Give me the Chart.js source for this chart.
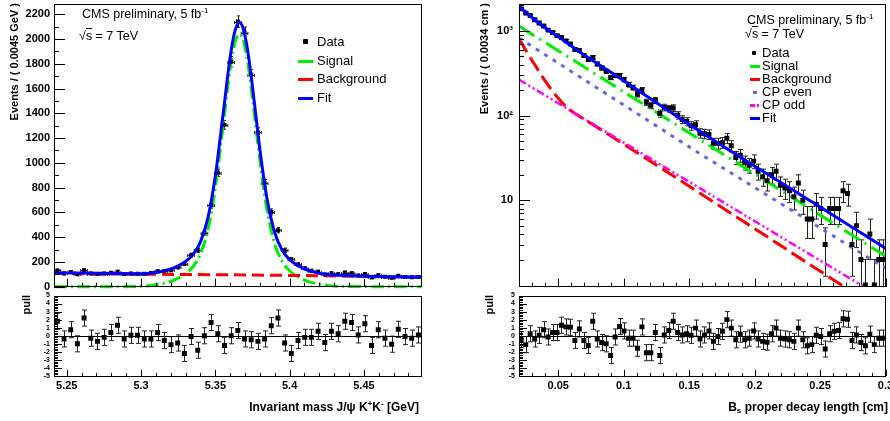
<!DOCTYPE html>
<html lang="en">
<head>
<meta charset="UTF-8">
<title>Bs mass and proper decay length fit</title>
<script src="https://cdn.jsdelivr.net/npm/chart.js"></script>
<style>
  body { margin: 0; width: 890px; height: 421px; background: #fff; position: relative; overflow: hidden;
         font-family: "Liberation Sans", Arial, sans-serif; color: #000; }
  canvas { position: absolute; }
  .t { position: absolute; white-space: nowrap; line-height: 15px; font-size: 12.5px; }
  .t sup { font-size: 8px; vertical-align: 5px; line-height: 0; }
  .t sub { font-size: 8px; vertical-align: -2px; line-height: 0; }
  .b { font-weight: bold; }
  .rot { position: absolute; transform-origin: 0 0; transform: rotate(-90deg); text-align: right;
         font-weight: bold; font-size: 11px; line-height: 14px; white-space: nowrap; }
  .sw { position: absolute; height: 3px; }
  .mk { position: absolute; background: #000; }
  .ov { text-decoration: overline; }
</style>
</head>
<body>
<canvas id="cMass" width="445" height="291" style="left:0;top:0"></canvas>
<canvas id="cMassPull" width="445" height="130" style="left:0;top:291px"></canvas>
<canvas id="cCt" width="445" height="291" style="left:445px;top:0"></canvas>
<canvas id="cCtPull" width="445" height="130" style="left:445px;top:291px"></canvas>

<!-- left panel texts -->
<div class="t" style="left:82px;top:7px">CMS preliminary, 5 fb<sup>-1</sup></div>
<div class="t" style="left:79px;top:29px">√<span class="ov">s</span> = 7 TeV</div>
<div class="mk" style="left:303px;top:39px;width:5px;height:5px;border-radius:1px"></div>
<div class="t" style="left:317px;top:34px;font-size:13px">Data</div>
<div class="sw" style="left:298px;top:60px;width:15px;background:#00ee00"></div>
<div class="t" style="left:317px;top:53px;font-size:13px">Signal</div>
<div class="sw" style="left:298px;top:78px;width:15px;background:#ff0000"></div>
<div class="t" style="left:317px;top:71px;font-size:13px">Background</div>
<div class="sw" style="left:298px;top:97px;width:15px;background:#0000ff"></div>
<div class="t" style="left:317px;top:90px;font-size:13px">Fit</div>

<!-- right panel texts -->
<div class="t" style="left:747px;top:13px">CMS preliminary, 5 fb<sup>-1</sup></div>
<div class="t" style="left:745px;top:27px">√<span class="ov">s</span> = 7 TeV</div>
<div class="mk" style="left:752px;top:51px;width:4px;height:4px;border-radius:1px"></div>
<div class="t" style="left:762px;top:45px;font-size:13px">Data</div>
<div class="sw" style="left:750px;top:65px;width:10px;background:#00ee00"></div>
<div class="t" style="left:762px;top:58px;font-size:13px">Signal</div>
<div class="sw" style="left:750px;top:78px;width:10px;background:#ff0000"></div>
<div class="t" style="left:762px;top:71px;font-size:13px">Background</div>
<div class="sw" style="left:753px;top:91px;width:4px;background:#6666dd"></div>
<div class="t" style="left:762px;top:84px;font-size:13px">CP even</div>
<div class="sw" style="left:750px;top:104px;width:5px;background:#ff00ff"></div>
<div class="sw" style="left:757px;top:104px;width:2px;background:#ff00ff"></div>
<div class="t" style="left:762px;top:97px;font-size:13px">CP odd</div>
<div class="sw" style="left:750px;top:117px;width:10px;background:#0000ff"></div>
<div class="t" style="left:762px;top:110px;font-size:13px">Fit</div>

<!-- axis titles -->
<div class="rot" style="left:7px;top:303px;width:300px">Events / ( 0.0045 GeV )</div>
<div class="rot" style="left:477px;top:303px;width:300px">Events / ( 0.0034 cm )</div>
<div class="rot" style="left:19px;top:395px;width:100px">pull</div>
<div class="rot" style="left:482px;top:395px;width:100px">pull</div>
<div class="t b" style="right:471px;top:400px;font-size:12px">Invariant mass J/ψ K<sup>+</sup>K<sup>-</sup> [GeV]</div>
<div class="t b" style="right:2px;top:400px;font-size:12px">B<sub>s</sub> proper decay length [cm]</div>

<script>
// binning
const massLo = 5.2414, massHi = 5.4889, massBin = 0.0045;
const ctLo = 0.02, ctHi = 0.30, ctBin = 0.28 / 82;

// tick labels
const massYTicks = [0, 200, 400, 600, 800, 1000, 1200, 1400, 1600, 1800, 2000, 2200];
const massXTicks = [5.25, 5.3, 5.35, 5.4, 5.45];
const ctXTicks = [0.05, 0.1, 0.15, 0.2, 0.25, 0.3];
const ctYTicks = [10, 100, 1000];
const pullTicks = [-5, -4, -3, -2, -1, 0, 1, 2, 3, 4, 5];

// left: invariant mass, events per bin
const massCounts = [131, 107, 119, 100, 133, 106, 102, 106, 112, 121, 103, 106, 105, 104, 110,
  124, 124, 133, 156, 185, 255, 295, 437, 660, 920, 1307, 1816, 2141, 2052, 1712, 1248, 837,
  604, 456, 295, 220, 180, 148, 128, 121, 99, 109, 101, 114, 109, 91, 102, 75, 92, 81, 73, 89,
  79, 76, 79];
const massPulls = [1.8, -0.4, 0.75, -1.0, 2.2, -0.3, -0.7, -0.2, 0.4, 1.3, -0.4, 0.05, 0.05, -0.4,
  -0.4, 0.4, -0.6, -1.1, -0.9, -2.2, -0.1, -1.8, 0, 1.65, 0.25, -1.2, 0, 0.65, -0.4, -0.5, -0.7,
  -0.4, 1.25, 2.2, -0.9, -2.2, -0.6, -0.2, -0.2, 0.55, -0.85, 0.55, 0.25, 1.8, 1.65, 0.1, 1.5,
  -1.2, 0.75, -0.3, -1.05, 0.8, -0.1, -0.3, 0.1];

// left: fit curves
const massCurveX = [5.2414, 5.26, 5.28, 5.30, 5.31, 5.32, 5.325, 5.33, 5.335, 5.34, 5.345, 5.35,
  5.355, 5.36, 5.363, 5.3662, 5.369, 5.372, 5.375, 5.378, 5.381, 5.385, 5.39, 5.395, 5.40, 5.41,
  5.42, 5.43, 5.45, 5.47, 5.4889];
const massFit = [112, 110, 107, 104, 115, 143, 168, 204, 261, 362, 556, 894, 1372, 1855, 2056,
  2134, 2075, 1887, 1615, 1308, 1015, 695, 436, 295, 219, 144, 109, 94, 85, 81, 78];
const massSignal = [0, 0, 0, 3, 15, 43, 69, 105, 163, 265, 460, 799, 1277, 1761, 1962, 2040, 1981,
  1794, 1522, 1215, 922, 603, 344, 204, 129, 54, 20, 6, 1, 0, 0];
const massBkgX = [5.2414, 5.27, 5.30, 5.35, 5.40, 5.45, 5.4889];
const massBkg = [108, 104, 101, 97, 91, 84, 78];

// right: proper decay length, events per bin
const ctCounts = [1820, 1622, 1520, 1353, 1238, 1144, 1021, 956, 879, 835, 763, 700, 603, 589, 512,
  459, 487, 407, 365, 334, 282, 298, 297, 266, 232, 214, 179, 200, 144, 132, 151, 106, 125, 121,
  123, 101, 90, 85, 76, 78, 62, 61, 60, 47, 47, 48, 54, 44, 32, 34, 28, 26, 29, 22, 19, 17, 20,
  22, 15, 14, 13, 11, 16, 10, 6, 6, 9, 8, 3, 8, 8, 8, 13, 12, 3, 5, 2, 1, 4, 1, 2, 2];
const ctPulls = [-0.5, -1.1, 0.25, -0.4, 0.05, 0.75, -0.15, 0.4, 0.4, 1.3, 1.1, 1.05, -0.6, 0.85,
  -0.6, -1.2, 1.8, -0.4, -0.85, -1.0, -2.45, -0.15, 1.15, 0.6, -0.3, -0.3, -1.55, 1.1, -2.1, -2.1,
  0.4, -2.45, 0.1, 0.65, 1.8, 0.4, 0.1, 0.25, 0.05, 0.95, -0.4, 0.1, 0.6, -0.7, -0.1, 0.55, 2.0,
  0.95, -0.5, 0.2, -0.5, -0.3, 0.6, -0.4, -0.7, -0.8, 0.25, 0.95, -0.3, -0.4, -0.5, -0.7, 0.95,
  -0.5, -1.25, -1.1, 0.05, -0.1, -1.65, 0.25, 0.55, 0.65, 2.1, 2.05, -0.6, 0.1, -0.85, -1.25, 0.2,
  -1.1, -0.3, -0.3];

// right: fit curves
const ctFitX = [0.02, 0.0296, 0.0398, 0.0526, 0.0653, 0.0908, 0.1583, 0.2437, 0.30];
const ctFit = [1960, 1450, 1090, 800, 580, 320, 65, 9.6, 2.72];
const ctSigX = [0.02, 0.30];
const ctSig = [1140, 2.2];
const ctBkgX = [0.02, 0.026, 0.032, 0.038, 0.044, 0.050, 0.056, 0.064, 0.0755, 0.30];
const ctBkg = [820, 560, 400, 285, 210, 160, 127, 103, 80, 0.46];
const ctEvenX = [0.02, 0.1583, 0.30];
const ctEven = [825, 35.4, 1.58];
const ctOddX = [0.02, 0.30];
const ctOdd = [266, 0.67];

const binCenters = (lo, w, n) => Array.from({ length: n }, (_, i) => lo + (i + 0.5) * w);
const pts = (xs, ys) => xs.map((x, i) => ({ x, y: ys[i] }));
const steps = (lo, hi, step, anchor) => {
  const out = [];
  for (let k = Math.ceil((lo - anchor) / step - 1e-9); anchor + k * step <= hi + 1e-9; k++) out.push(anchor + k * step);
  return out;
};
const logMinor = (lo, hi) => {
  const out = [];
  for (let d = 0.1; d <= 1000; d *= 10)
    for (let k = 2; k <= 9; k++) if (k * d >= lo && k * d <= hi) out.push(k * d);
  return out;
};

const massX = binCenters(massLo, massBin, massCounts.length);
const ctX = binCenters(ctLo, ctBin, ctCounts.length);

// tick marks drawn inside the frame, ROOT style
const frames = {
  cMass: { xMajor: massXTicks, xMinor: steps(massLo, massHi, 0.01, 5.25), xMajorLen: 8, xMinorLen: 4,
           yMajor: massYTicks, yMinor: steps(0, 2283, 100, 0), yMajorLen: 11, yMinorLen: 5 },
  cMassPull: { xMajor: massXTicks, xMinor: steps(massLo, massHi, 0.01, 5.25), xMajorLen: 6, xMinorLen: 3,
               yMajor: pullTicks, yMinor: steps(-5, 5, 0.2, 0), yMajorLen: 8, yMinorLen: 4, zeroLine: true },
  cCt: { xMajor: ctXTicks, xMinor: steps(ctLo, ctHi, 0.01, 0.05), xMajorLen: 8, xMinorLen: 4,
         yMajor: ctYTicks, yMinor: logMinor(0.955, 2078), yMajorLen: 11, yMinorLen: 5 },
  cCtPull: { xMajor: ctXTicks, xMinor: steps(ctLo, ctHi, 0.01, 0.05), xMajorLen: 6, xMinorLen: 3,
             yMajor: pullTicks, yMinor: steps(-5, 5, 0.2, 0), yMajorLen: 8, yMinorLen: 4, zeroLine: true }
};

const rootFrame = {
  id: 'rootFrame',
  afterDatasetsDraw(chart) {
    const o = frames[chart.canvas.id];
    const { ctx, chartArea: a, scales: { x, y } } = chart;
    ctx.save();
    ctx.strokeStyle = '#000';
    ctx.lineWidth = 1;
    ctx.beginPath();
    if (o.zeroLine) {
      const py = Math.round(y.getPixelForValue(0)) + 0.5;
      ctx.moveTo(a.left, py); ctx.lineTo(a.right, py);
    }
    const xt = (vals, len) => vals.forEach(v => {
      const px = Math.round(x.getPixelForValue(v)) + 0.5;
      ctx.moveTo(px, a.bottom); ctx.lineTo(px, a.bottom - len);
    });
    const yt = (vals, len) => vals.forEach(v => {
      const py = Math.round(y.getPixelForValue(v)) + 0.5;
      ctx.moveTo(a.left, py); ctx.lineTo(a.left + len, py);
    });
    xt(o.xMajor, o.xMajorLen); xt(o.xMinor, o.xMinorLen);
    yt(o.yMajor, o.yMajorLen); yt(o.yMinor, o.yMinorLen);
    ctx.stroke();
    ctx.strokeRect(Math.round(a.left) + 0.5, Math.round(a.top) + 0.5, Math.round(a.width) - 1, Math.round(a.height) - 1);
    ctx.restore();
  }
};

// error bars with end caps
const errorBars = {
  id: 'errorBars',
  beforeDatasetsDraw(chart) {
    const { ctx, chartArea: a, scales: { x, y } } = chart;
    ctx.save();
    ctx.beginPath();
    ctx.rect(a.left, a.top, a.width, a.height);
    ctx.clip();
    ctx.strokeStyle = '#222';
    ctx.lineWidth = 1;
    ctx.beginPath();
    chart.data.datasets.forEach(ds => {
      if (!ds.err) return;
      const c = ds.cap;
      ds.data.forEach((p, i) => {
        const e = ds.err[i];
        const px = Math.round(x.getPixelForValue(p.x)) + 0.5;
        const yHi = y.getPixelForValue(p.y + e);
        const yLo = (y.type === 'logarithmic' && p.y - e <= 0) ? a.bottom + 5 : y.getPixelForValue(p.y - e);
        ctx.moveTo(px, yHi); ctx.lineTo(px, yLo);
        ctx.moveTo(px - c, yHi); ctx.lineTo(px + c, yHi);
        ctx.moveTo(px - c, yLo); ctx.lineTo(px + c, yLo);
        if (ds.xErr) {
          const py = Math.round(y.getPixelForValue(p.y)) + 0.5;
          const xl = x.getPixelForValue(p.x - ds.xErr), xr = x.getPixelForValue(p.x + ds.xErr);
          ctx.moveTo(xl, py); ctx.lineTo(xr, py);
          ctx.moveTo(xl, py - c); ctx.lineTo(xl, py + c);
          ctx.moveTo(xr, py - c); ctx.lineTo(xr, py + c);
        }
      });
    });
    ctx.stroke();
    ctx.restore();
  }
};

Chart.defaults.font.family = '"Liberation Sans", Arial, sans-serif';
Chart.defaults.color = '#000';

const bold = size => ({ size, weight: 'bold', family: '"Liberation Sans", Arial, sans-serif' });
const curve = (data, color, dash, width, smooth) => ({
  data, showLine: true, borderColor: color, borderWidth: width, borderDash: dash,
  pointRadius: 0, fill: false, cubicInterpolationMode: smooth ? 'monotone' : 'default', tension: 0
});
const yAxis = (w, extra) => Object.assign({
  grid: { display: false, drawTicks: false }, border: { display: false },
  afterFit: s => { s.width = w; s.paddingTop = 0; s.paddingBottom = 0; }
}, extra);
const xHidden = (min, max) => ({ type: 'linear', min, max, display: false });
const xPull = (min, max, ticks) => ({
  type: 'linear', min, max,
  grid: { display: false, drawTicks: false }, border: { display: false },
  afterBuildTicks: s => { s.ticks = ticks.map(v => ({ value: v })); },
  afterFit: s => { s.height = 45; s.paddingLeft = 0; s.paddingRight = 0; },
  ticks: { font: bold(11), padding: 3, maxRotation: 0, autoSkip: false, callback: v => String(v) }
});
const common = padding => ({
  responsive: false, animation: false, events: [],
  layout: { padding },
  plugins: { legend: { display: false }, tooltip: { enabled: false } }
});
const pullY = w => yAxis(w, {
  type: 'linear', min: -5, max: 5,
  afterBuildTicks: s => { s.ticks = pullTicks.map(v => ({ value: v })); },
  ticks: { font: bold(7), padding: 4, autoSkip: false, callback: v => String(v) }
});

// left main: mass
const massSignalSet = curve(pts(massCurveX, massSignal), '#00ee00', [13, 4, 2, 4], 3, true);
massSignalSet.clip = { left: 0, top: 0, right: 0, bottom: 2 };
new Chart(document.getElementById('cMass'), {
  type: 'scatter',
  data: { datasets: [
    curve(pts(massCurveX, massFit), '#0000ff', [], 3, true),
    { data: pts(massX, massCounts), pointStyle: 'rect', pointRadius: 2.8, backgroundColor: '#000',
      borderWidth: 0, err: massCounts.map(Math.sqrt), cap: 1.5, xErr: massBin / 2 },
    curve(pts(massBkgX, massBkg), '#ff0000', [12, 6], 3, true),
    massSignalSet
  ] },
  options: Object.assign(common({ left: 0, right: 23.3, top: 3, bottom: 4.3 }), {
    scales: {
      x: xHidden(massLo, massHi),
      y: yAxis(54, {
        type: 'linear', min: 0, max: 2283,
        afterBuildTicks: s => { s.ticks = massYTicks.map(v => ({ value: v })); },
        ticks: { font: bold(11), padding: 4, autoSkip: false, callback: v => String(v) }
      })
    }
  }),
  plugins: [errorBars, rootFrame]
});

// left pull
new Chart(document.getElementById('cMassPull'), {
  type: 'scatter',
  data: { datasets: [
    { data: pts(massX, massPulls), pointStyle: 'rect', pointRadius: 3.5, backgroundColor: '#000',
      borderWidth: 0, err: massPulls.map(() => 1), cap: 2.5 }
  ] },
  options: Object.assign(common({ left: 0, right: 23.3, top: 4.5, bottom: 0 }), {
    scales: { x: xPull(massLo, massHi, massXTicks), y: pullY(54) }
  }),
  plugins: [errorBars, rootFrame]
});

// right main: proper decay length (log)
new Chart(document.getElementById('cCt'), {
  type: 'scatter',
  data: { datasets: [
    curve(pts(ctFitX, ctFit), '#0000ff', [], 3, true),
    { data: pts(ctX, ctCounts), pointStyle: 'rect', pointRadius: 3.5, backgroundColor: '#000',
      borderWidth: 0, err: ctCounts.map(Math.sqrt), cap: 2.5 },
    curve(pts(ctSigX, ctSig), '#00ee00', [18, 6, 2, 6], 3, false),
    curve(pts(ctEvenX, ctEven), '#6666dd', [4, 6], 3, false),
    curve(pts(ctOddX, ctOdd), '#ff00ff', [8, 3, 2, 3, 2, 3], 2.5, false),
    curve(pts(ctBkgX, ctBkg), '#ff0000', [16, 6], 3, true)
  ] },
  options: Object.assign(common({ left: 0, right: 4.5, top: 3, bottom: 4.3 }), {
    scales: {
      x: xHidden(ctLo, ctHi),
      y: yAxis(74, {
        type: 'logarithmic', min: 0.955, max: 2078,
        afterBuildTicks: s => { s.ticks = ctYTicks.map(v => ({ value: v })); },
        ticks: { font: bold(11), padding: 6, autoSkip: false,
                 callback: v => ({ 10: '10', 100: '10²', 1000: '10³' })[v] }
      })
    }
  }),
  plugins: [errorBars, rootFrame]
});

// right pull
new Chart(document.getElementById('cCtPull'), {
  type: 'scatter',
  data: { datasets: [
    { data: pts(ctX, ctPulls), pointStyle: 'rect', pointRadius: 3.5, backgroundColor: '#000',
      borderWidth: 0, err: ctPulls.map(() => 1), cap: 2.5 }
  ] },
  options: Object.assign(common({ left: 0, right: 4.5, top: 4.5, bottom: 0 }), {
    scales: { x: xPull(ctLo, ctHi, ctXTicks), y: pullY(74) }
  }),
  plugins: [errorBars, rootFrame]
});
</script>
</body>
</html>
